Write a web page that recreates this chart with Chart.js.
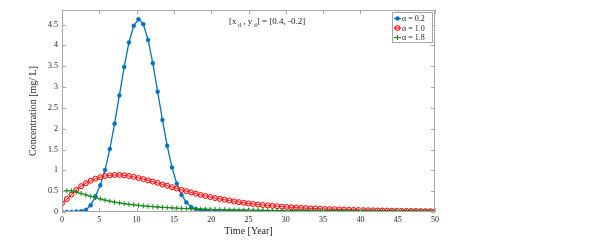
<!DOCTYPE html>
<html><head><meta charset="utf-8">
<script src="https://cdn.jsdelivr.net/npm/chart.js@4.4.0/dist/chart.umd.min.js"></script>
<style>html,body{margin:0;padding:0;background:#fff;}canvas{display:block;}</style>
</head><body>
<canvas id="c" width="598" height="240"></canvas>
<script>
const time = [0,0.641,1.282,1.923,2.564,3.205,3.846,4.487,5.128,5.769,6.410,7.051,7.692,8.333,8.974,9.615,10.256,10.897,11.538,12.179,12.821,13.462,14.103,14.744,15.385,16.026,16.667,17.308,17.949,18.590,19.231,19.872,20.513,21.154,21.795,22.436,23.077,23.718,24.359,25.0,25.641,26.282,26.923,27.564,28.205,28.846,29.487,30.128,30.769,31.410,32.051,32.692,33.333,33.974,34.615,35.256,35.897,36.538,37.179,37.821,38.462,39.103,39.744,40.385,41.026,41.667,42.308,42.949,43.590,44.231,44.872,45.513,46.154,46.795,47.436,48.077,48.718,49.359,50];
const concA02 = [0.00,0.00,0.00,0.01,0.02,0.05,0.16,0.38,0.64,1.01,
 1.51,2.12,2.80,3.48,4.07,4.47,4.63,4.51,4.13,3.57,
 2.89,2.21,1.59,1.07,0.68,0.41,0.23,0.12,0.07,0.045,
 0.035,0.028,0.024,0.021,0.019,0.017,0.015,0.014,0.013,0.012,
 0.011,0.010,0.010,0.009,0.009,0.008,0.008,0.007,0.007,0.007,
 0.006,0.006,0.006,0.005,0.005,0.005,0.005,0.004,0.004,0.004,
 0.004,0.004,0.003,0.003,0.003,0.003,0.003,0.003,0.003,0.002,
 0.002,0.002,0.002,0.002,0.002,0.002,0.002,0.002,0.002];
const concA10 = [0.21,0.31,0.42,0.53,0.62,0.69,0.75,0.80,0.835,0.865,
 0.88,0.89,0.89,0.88,0.865,0.845,0.815,0.79,0.76,0.73,
 0.70,0.66,0.63,0.595,0.565,0.53,0.50,0.47,0.44,0.41,
 0.385,0.36,0.335,0.315,0.295,0.275,0.255,0.237,0.22,0.205,
 0.19,0.18,0.168,0.158,0.148,0.138,0.128,0.12,0.113,0.106,
 0.10,0.094,0.088,0.083,0.078,0.073,0.069,0.065,0.061,0.057,
 0.054,0.051,0.048,0.045,0.043,0.040,0.038,0.036,0.034,0.032,
 0.030,0.028,0.027,0.025,0.024,0.022,0.021,0.020,0.019];
const concA18 = [0.49,0.51,0.51,0.48,0.445,0.41,0.375,0.345,0.315,0.285,
 0.26,0.237,0.218,0.20,0.186,0.172,0.159,0.148,0.138,0.128,
 0.12,0.112,0.105,0.098,0.092,0.087,0.082,0.077,0.073,0.069,
 0.066,0.062,0.059,0.056,0.054,0.051,0.049,0.047,0.045,0.043,
 0.042,0.040,0.039,0.037,0.036,0.035,0.034,0.033,0.032,0.031,
 0.030,0.029,0.028,0.027,0.027,0.026,0.025,0.025,0.024,0.023,
 0.023,0.022,0.022,0.021,0.021,0.020,0.020,0.019,0.019,0.018,
 0.018,0.018,0.017,0.017,0.016,0.016,0.016,0.015,0.015];
const seriesLabels = ['\u03b1 = 0.2','\u03b1 = 1.0','\u03b1 = 1.8'];
const xTicks = [0,5,10,15,20,25,30,35,40,45,50];
const yTicks = [0,0.5,1,1.5,2,2.5,3,3.5,4,4.5];
const xTitle = 'Time [Year]';
const yTitle = 'Concentration [mg/ L]';

const SERIF = 'Liberation Serif';
const AXC = '#a8a8a8';
const TXT = '#262626';
const BLUE = '#0072BD', RED = '#FF0000', GREEN = '#138a13';

const toXY = arr => time.map((t,i)=>({x:t,y:arr[i]}));

const boxTicks = {
  id:'boxTicks',
  afterDatasetsDraw(chart){
    const {ctx, chartArea:a, scales:{x,y}} = chart;
    ctx.save();
    ctx.strokeStyle = AXC; ctx.lineWidth = 1;
    ctx.strokeRect(Math.round(a.left)+0.5, Math.round(a.top)+0.5, Math.round(a.right-a.left)-1, Math.round(a.bottom-a.top)-1);
    ctx.beginPath();
    xTicks.forEach(v=>{
      const px = Math.round(x.getPixelForValue(v))+0.5;
      ctx.moveTo(px, a.bottom); ctx.lineTo(px, a.bottom-4);
      ctx.moveTo(px, a.top); ctx.lineTo(px, a.top+4);
    });
    yTicks.forEach(v=>{
      const py = Math.round(y.getPixelForValue(v))+0.5;
      ctx.moveTo(a.left, py); ctx.lineTo(a.left+4, py);
      ctx.moveTo(a.right, py); ctx.lineTo(a.right-4, py);
    });
    ctx.stroke();
    // annotation text
    ctx.fillStyle = TXT;
    ctx.textBaseline = 'alphabetic';
    const big = '9px "'+SERIF+'"', small = '6px "'+SERIF+'"';
    let cx = 229; const by = 24;
    const parts = [['[x',big,0],[' d',small,3],[' , y',big,0],[' d',small,3],['] = [0.4, -0.2]',big,0]];
    parts.forEach(([s,f,dy])=>{ ctx.font=f; ctx.fillText(s,cx,by+dy); cx += ctx.measureText(s).width; });
    // legend
    const lx = 392, ly = 12, lw = 40, lh = 30;
    ctx.fillStyle = '#fff';
    ctx.fillRect(lx, ly, lw, lh);
    ctx.strokeStyle = AXC; ctx.lineWidth = 1;
    ctx.strokeRect(lx+0.5, ly+0.5, lw, lh);
    chart.data.datasets.forEach((d,i)=>{
      const yy = ly + 6.5 + i*9.5;
      ctx.strokeStyle = d.borderColor; ctx.lineWidth = 1.2;
      ctx.beginPath(); ctx.moveTo(lx+2, yy); ctx.lineTo(lx+9, yy); ctx.stroke();
      ctx.fillStyle = d.pointBackgroundColor; ctx.strokeStyle = d.pointBorderColor;
      ctx.lineWidth = d.pointBorderWidth || 1;
      Chart.helpers.drawPoint(ctx, {pointStyle:d.pointStyle, radius:d.pointRadius, borderWidth:d.pointBorderWidth||1, rotation:0}, lx+5.5, yy);
      ctx.fillStyle = TXT;
      ctx.font = '8px "'+SERIF+'"';
      ctx.textBaseline = 'middle';
      ctx.fillText(d.label, lx+10, yy+0.5);
    });
    ctx.restore();
  }
};

new Chart(document.getElementById('c'), {
  type:'line',
  data:{datasets:[
    {label:seriesLabels[0], data:toXY(concA02), borderColor:BLUE, borderWidth:1.3, pointStyle:'circle', pointRadius:2, pointBackgroundColor:BLUE, pointBorderColor:BLUE, pointBorderWidth:0.5, order:2},
    {label:seriesLabels[1], data:toXY(concA10), borderColor:RED, borderWidth:1, pointStyle:'circle', pointRadius:2.5, pointBackgroundColor:'rgba(255,120,120,0.25)', pointBorderColor:RED, pointBorderWidth:1, order:1},
    {label:seriesLabels[2], data:toXY(concA18), borderColor:GREEN, borderWidth:1, pointStyle:'cross', pointRadius:2.5, pointBackgroundColor:GREEN, pointBorderColor:GREEN, pointBorderWidth:1, order:0}
  ]},
  options:{
    responsive:false, animation:false, devicePixelRatio:1,
    layout:{padding:{left:0,right:163,top:10,bottom:0}},
    plugins:{legend:{display:false}, tooltip:{enabled:false}},
    elements:{line:{tension:0}},
    scales:{
      x:{type:'linear', min:0, max:50,
        grid:{display:false, drawTicks:false}, border:{display:false},
        afterBuildTicks(s){ s.ticks = xTicks.map(v=>({value:v})); },
        ticks:{autoSkip:false, maxRotation:0, padding:3, color:TXT, font:{family:SERIF, size:8}, callback:v=>String(v)},
        title:{display:true, text:xTitle, color:TXT, font:{family:SERIF, size:10}, padding:{top:0,bottom:3}},
        afterFit(s){ s.height = 28; }
      },
      y:{type:'linear', min:0, max:4.85,
        grid:{display:false, drawTicks:false}, border:{display:false},
        afterBuildTicks(s){ s.ticks = yTicks.map(v=>({value:v})); },
        ticks:{autoSkip:false, padding:4, color:TXT, font:{family:SERIF, size:8}, callback:v=>String(v)},
        title:{display:true, text:yTitle, color:TXT, font:{family:SERIF, size:10}, padding:{top:27,bottom:0}},
        afterFit(s){ s.width = 62; }
      }
    }
  },
  plugins:[boxTicks]
});
</script>
</body></html>
